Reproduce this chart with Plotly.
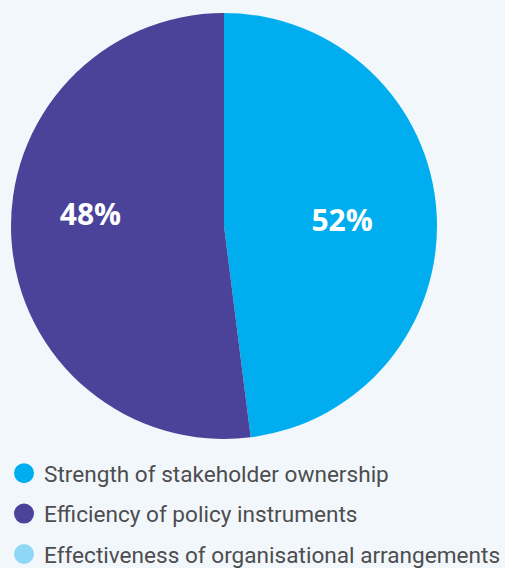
import plotly.graph_objects as go

categories = ["Strength of stakeholder ownership", "Efficiency of policy instruments",
              "Effectiveness of organisational arrangements"]
values = [48, 52, 0]          # slice shares as drawn
label_text = ["52%", "48%", ""]  # printed labels
colors = ["#00AEEF", "#4A4399", "#8FD8F5"]

bg = "#F2F7FB"
NB = "\u00a0"
# padding to nudge plotly's automatic inside-label placement
shown = [NB * 3 + label_text[0], label_text[1] + NB * 7 + "<br>" + NB, label_text[2]]

fig = go.Figure()
fig.add_trace(go.Pie(
    labels=categories, values=values, text=shown,
    textinfo="text", texttemplate="%{text}", textposition="inside",
    insidetextorientation="horizontal",
    textfont=dict(family="Open Sans", size=30, color="white", weight="bold"),
    marker=dict(colors=colors, line=dict(width=0)),
    sort=False, direction="clockwise", rotation=0,
    showlegend=False, hoverinfo="label+value",
    domain=dict(x=[11/505, 437/505], y=[(568-439)/568, (568-13)/568]),
))
for i, (c, col) in enumerate(zip(categories, colors)):
    fig.add_trace(go.Scatter(
        x=[None], y=[None], mode="markers", name=c,
        marker=dict(symbol="circle", size=20, color=col, line=dict(width=4, color=col)),
        legendgroup=f"g{i}", showlegend=True,
    ))

fig.update_layout(
    width=505, height=568, margin=dict(l=0, r=0, t=0, b=0, autoexpand=False),
    paper_bgcolor=bg, plot_bgcolor=bg,
    xaxis=dict(visible=False), yaxis=dict(visible=False),
    legend=dict(x=4/505, y=-8/568, xanchor="left", yanchor="bottom",
                font=dict(family="Roboto", size=22.6, color="#4D4D4F"),
                tracegroupgap=8, bgcolor="rgba(0,0,0,0)", itemsizing="trace"),
)
fig.write_html("out.html")
